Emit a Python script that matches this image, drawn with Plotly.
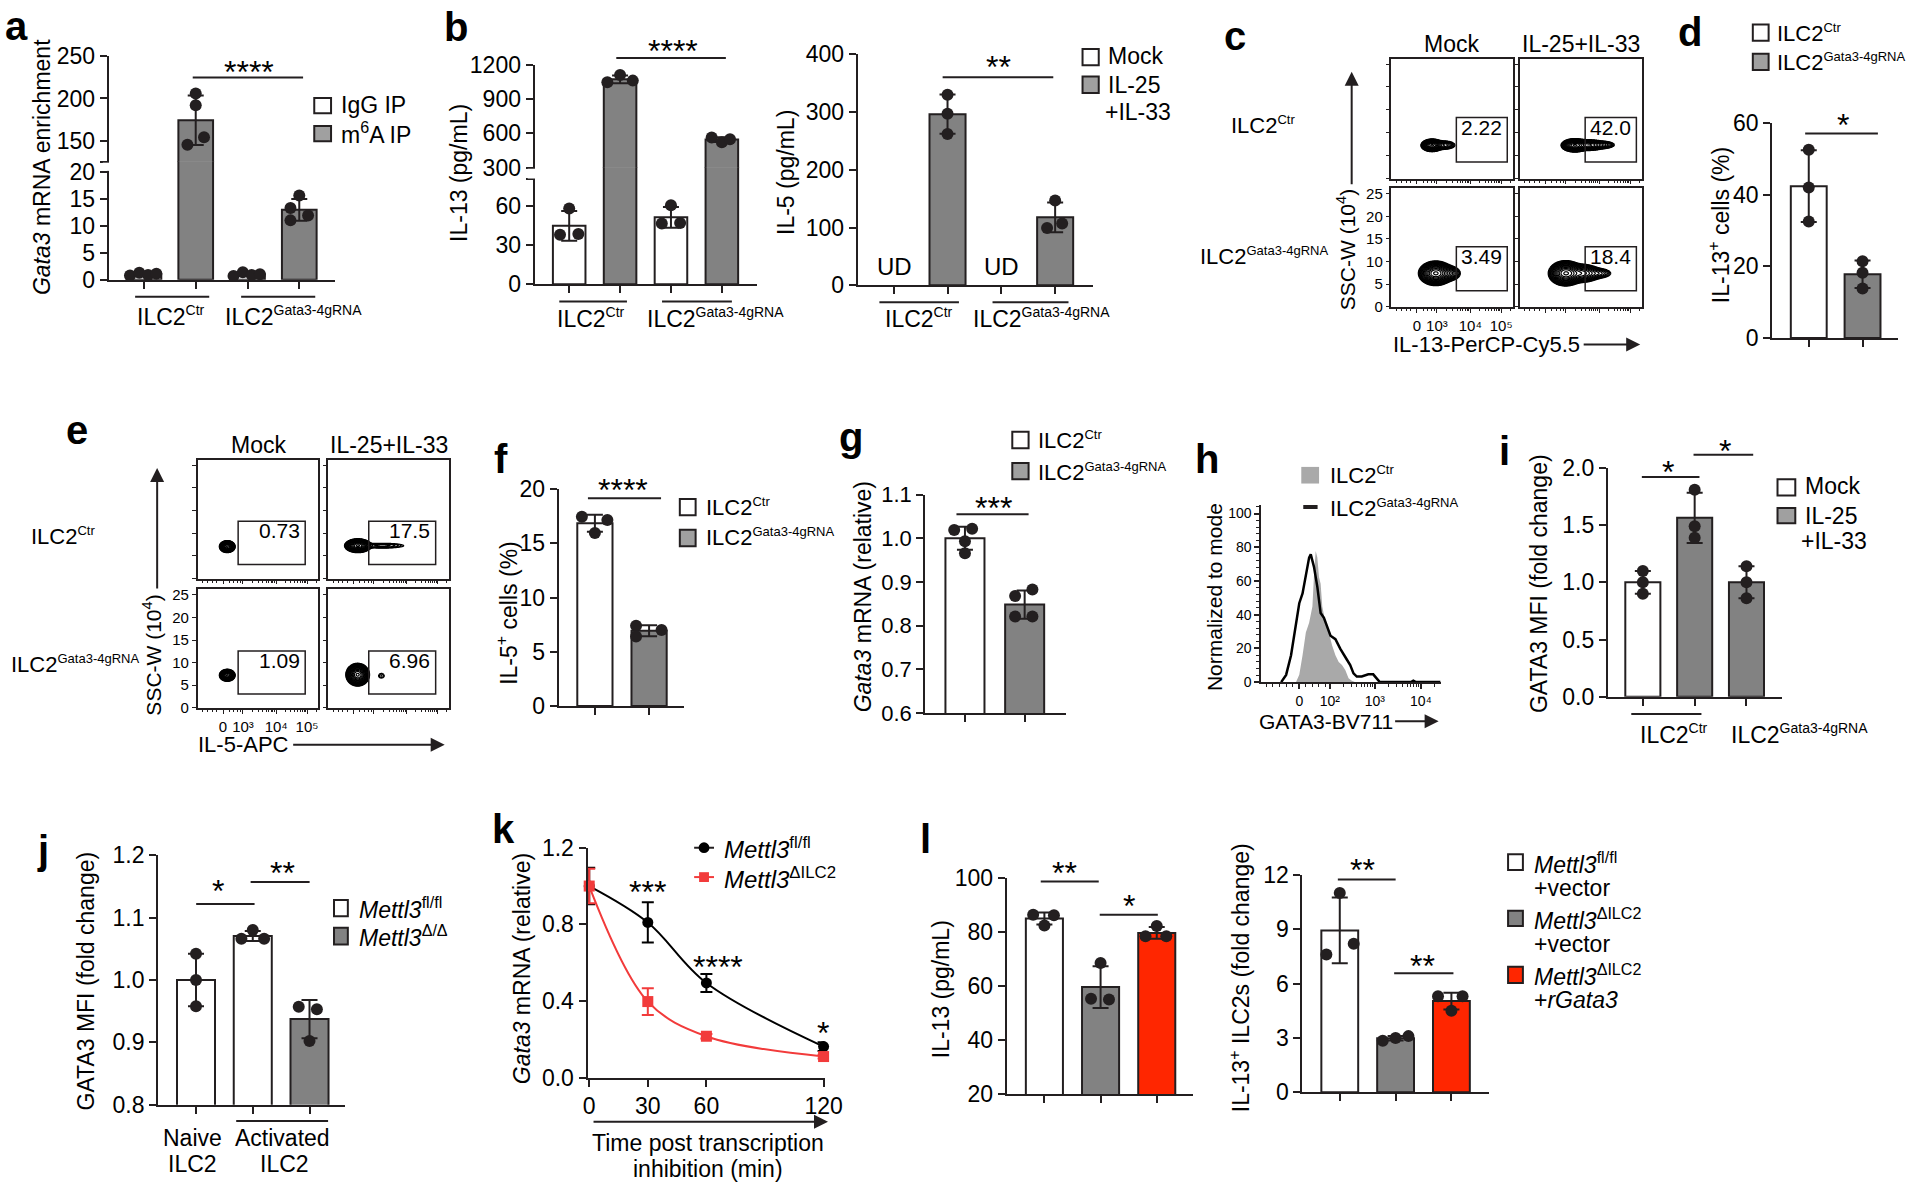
import numpy as np
import plotly.graph_objects as go

W, H = 1920, 1195
FONT = "Liberation Sans, Arial, Helvetica, sans-serif"
BLACK = "#231f20"
GRAY = "#828282"
LGRAY = "#a0a0a0"
RED = "#ff2600"
KRED = "#f23b3b"
HGRAY = "#a9a9a9"
TS = 23      # general text size
TK = 23      # tick label size

# ======================= DATA =======================
# panel a  (Gata3 mRNA enrichment)
a_igg_ctr = [0.8, 1.3, 0.9, 1.1]
a_m6a_ctr = [206, 192, 154, 145]
a_igg_grna = [0.7, 1.4, 0.9, 1.0]
a_m6a_grna = [15.6, 13.3, 11.9, 11.0]
a_ticks_low = [0, 5, 10, 15, 20]
a_ticks_up = [150, 200, 250]

# panel b  (IL-13 / IL-5 pg/mL)
b13_mock_ctr = [58, 38, 38.5]
b13_il_ctr = [1045, 1109, 1060]
b13_mock_grna = [60.5, 46.5, 47]
b13_il_grna = [565, 523, 550]
b13_ticks_low = [0, 30, 60]
b13_ticks_up = [300, 600, 900, 1200]
b5_il_ctr = [330, 297, 262]
b5_il_grna = [147, 99, 107]
b5_ticks = [0, 100, 200, 300, 400]

# panel c / e flow gates
c_gate_pct = ["2.22", "42.0", "3.49", "18.4"]
e_gate_pct = ["0.73", "17.5", "1.09", "6.96"]
flow_yticks = [0, 5, 10, 15, 20, 25]
flow_xtick_text = ["0", "10³", "10⁴", "10⁵"]
# populations: (center x, center y, spread x, spread y, weight)
c_pops = [
    [(0.335, 7.2, 0.031, 0.47, 1.0), (0.43, 7.25, 0.045, 0.45, 0.10)],
    [(0.45, 7.2, 0.038, 0.50, 1.0), (0.56, 7.25, 0.055, 0.46, 0.35), (0.68, 7.3, 0.048, 0.40, 0.08)],
    [(0.365, 7.4, 0.048, 0.92, 1.0), (0.47, 7.4, 0.045, 0.75, 0.12)],
    [(0.375, 7.4, 0.048, 0.95, 1.0), (0.50, 7.4, 0.065, 0.80, 0.30), (0.65, 7.4, 0.052, 0.55, 0.06)],
]
e_pops = [
    [(0.245, 7.0, 0.022, 0.45, 1.0)],
    [(0.245, 7.2, 0.037, 0.52, 1.0), (0.45, 7.2, 0.11, 0.34, 0.04)],
    [(0.245, 7.2, 0.022, 0.45, 1.0)],
    [(0.243, 7.33, 0.033, 0.85, 1.0), (0.44, 7.1, 0.022, 0.48, 0.02)],
]

# panel d  (IL-13+ cells %)
d_ctr = [52.5, 42, 32.5]
d_grna = [21.4, 18.2, 13.8]
d_ticks = [0, 20, 40, 60]

# panel f  (IL-5+ cells %)
f_ctr = [17.45, 17.15, 15.95]
f_grna = [7.4, 7.0, 6.4]
f_ticks = [0, 5, 10, 15, 20]

# panel g  (Gata3 mRNA relative)
g_ctr = [1.019, 1.022, 0.993, 0.966]
g_grna = [0.868, 0.883, 0.821, 0.821]
g_ticks = [0.6, 0.7, 0.8, 0.9, 1.0, 1.1]

# panel h  (histograms, biexponential display channel)
h_x_grna = [-5.5, -4, -2.5, -1, 0, 1, 2, 3, 3.5, 4.5, 5.5, 6, 6.5, 7.5, 8.5, 9.5, 11, 12.5, 14, 15.5,
            16.5, 17.5, 19, 21, 22.5, 23.5, 24.5, 34, 34.7, 35.5, 43]
h_y_grna = [0, 4.3, 15.9, 35.2, 46.8, 52.6, 62.3, 73.9, 75.8, 68.1, 56.5, 48.7, 41, 38.1, 33.3, 27.5, 25.5,
            19.7, 14.9, 10.1, 5.2, 3.3, 3.3, 4.6, 4.6, 2.3, 0, 0, 0.8, 0, 0]
h_x_ctr = [-1, 0, 1, 2, 3, 4, 4.5, 5, 5.5, 6, 6.5, 7, 8, 9, 10, 11, 12, 13, 14, 15, 16, 17]
h_y_ctr = [0, 4.3, 15.9, 29.4, 35.2, 44.9, 64.2, 77.8, 73.9, 62.3, 58.4, 44.9, 35.2, 29.4, 21.7, 15.9,
           12, 10.1, 7.2, 2.3, 0.8, 0]
h_xtick_pos = [0, 9.3, 23, 37]
h_xtick_text = ["0", "10²", "10³", "10⁴"]
h_yticks = [0, 20, 40, 60, 80, 100]

# panel i  (GATA3 MFI)
i_mock_ctr = [1.1, 1.0, 0.9]
i_il_ctr = [1.81, 1.49, 1.39]
i_il_grna = [1.14, 1.0, 0.86]
i_ticks = [0.0, 0.5, 1.0, 1.5, 2.0]

# panel j  (GATA3 MFI)
j_naive = [1.042, 1.0, 0.958]
j_act_fl = [1.08, 1.066, 1.066]
j_act_del = [0.957, 0.953, 0.902]
j_ticks = [0.8, 0.9, 1.0, 1.1, 1.2]

# panel k  (mRNA decay)
k_time = [0, 30, 60, 120]
k_fl = [1.0, 0.81, 0.494, 0.162]
k_fl_err = [0.095, 0.105, 0.047, 0.023]
k_del = [1.0, 0.397, 0.216, 0.11]
k_del_err = [0.09, 0.07, 0.012, 0.01]
k_yticks = [0.0, 0.4, 0.8, 1.2]

# panel l
l13_fl = [86.4, 86.2, 82.4]
l13_del = [68.5, 55.3, 55.0]
l13_rg = [82.2, 78.4, 78.4]
l13_ticks = [20, 40, 60, 80, 100]
lfc_fl = [11.0, 8.2, 7.6]
lfc_del = [2.85, 3.0, 3.1]
lfc_rg = [5.3, 5.3, 4.5]
lfc_ticks = [0, 3, 6, 9, 12]

# dot jitter (style only)
a_jit = [[-0.27, -0.09, 0.08, 0.24], [0, 0, 0.16, -0.16], [-0.27, -0.09, 0.08, 0.24], [0, -0.17, 0.17, -0.17]]
b13_jit = [[0, -0.18, 0.18], [-0.25, 0, 0.25], [0, -0.18, 0.18], [-0.2, 0, 0.16]]
b5_jit = [[0, 0, 0], [0, -0.15, 0.13]]
z3 = [0, 0, 0]
f_jit = [[-0.24, 0.23, 0], [-0.24, 0.23, -0.24]]
g_jit = [[-0.18, 0.12, 0, 0], [-0.16, 0.13, -0.16, 0.13]]
j_jit = [[0, 0, 0], [0, -0.2, 0.2], [-0.19, 0.13, 0]]
l13_jit = [[-0.2, 0.17, 0], [0, -0.17, 0.15], [0, -0.2, 0.17]]
lfc_jit = [[0, 0.25, -0.24], [-0.23, 0, 0.23], [-0.24, 0.2, 0]]

# ======================= HELPERS =======================
fig = go.Figure()
L = {}
shapes = []
annots = []
_n = {"x": 0, "y": 0}


def fx(p):
    return p / W


def fy(p):
    return 1 - p / H


def _ref(k, n):
    return k if n == 1 else f"{k}{n}"


def _name(k, n):
    return f"{k}axis" if n == 1 else f"{k}axis{n}"


def base_axis(size=TK):
    return dict(showline=True, linecolor=BLACK, linewidth=2, ticks="outside", ticklen=7, tickwidth=2,
                tickcolor=BLACK, showgrid=False, zeroline=False, fixedrange=True,
                tickfont=dict(family=FONT, size=size, color="black"))


def make_axes(xpx, ypx, xr, yr, xkw=None, ykw=None):
    _n["x"] += 1
    _n["y"] += 1
    xi, yi = _n["x"], _n["y"]
    xa = base_axis()
    xa.update(domain=[fx(xpx[0]), fx(xpx[1])], range=xr, anchor=_ref("y", yi))
    ya = base_axis()
    ya.update(domain=[fy(ypx[1]), fy(ypx[0])], range=yr, anchor=_ref("x", xi))
    if xkw:
        xa.update(xkw)
    if ykw:
        ya.update(ykw)
    L[_name("x", xi)] = xa
    L[_name("y", yi)] = ya
    return _ref("x", xi), _ref("y", yi)


def extra_y(xref, ypx, yr, ykw=None):
    _n["y"] += 1
    yi = _n["y"]
    ya = base_axis()
    ya.update(domain=[fy(ypx[1]), fy(ypx[0])], range=yr, anchor=xref)
    if ykw:
        ya.update(ykw)
    L[_name("y", yi)] = ya
    return _ref("y", yi)


def ticks_kw(vals, fmt="{:g}", size=TK, blank=()):
    return dict(tickvals=vals, ticktext=["" if v in blank else fmt.format(v) for v in vals],
                tickfont=dict(family=FONT, size=size, color="black"))


def bar_set(xa, ya, idx, pts, jit, fills, width, seg=None):
    means = [float(np.mean(p)) for p in pts]
    sds = [float(np.std(p, ddof=1)) for p in pts]
    fig.add_trace(go.Bar(x=idx, y=means, width=width, xaxis=xa, yaxis=ya, hoverinfo="skip",
                         marker=dict(color=fills, line=dict(color=BLACK, width=2))))
    ex, ey, ee = [], [], []
    for i, m, s in zip(idx, means, sds):
        if seg is None or seg[0] <= m <= seg[1]:
            ex.append(i)
            ey.append(m)
            ee.append(s)
    fig.add_trace(go.Scatter(x=ex, y=ey, mode="markers", xaxis=xa, yaxis=ya, hoverinfo="skip",
                             marker=dict(size=2, color="rgba(0,0,0,0)"),
                             error_y=dict(type="data", array=ee, color=BLACK, thickness=2, width=8)))
    px_, py_ = [], []
    for i, p, j in zip(idx, pts, jit):
        for v, o in zip(p, j):
            if seg is None or seg[0] <= v <= seg[1]:
                px_.append(i + o)
                py_.append(v)
    fig.add_trace(go.Scatter(x=px_, y=py_, mode="markers", xaxis=xa, yaxis=ya, hoverinfo="skip",
                             cliponaxis=False, marker=dict(size=12, color=BLACK)))


def txt(x, y, s, size=TS, xanchor="center", yanchor="middle", angle=0, bold=False):
    if bold:
        s = f"<b>{s}</b>"
    annots.append(dict(x=fx(x), y=fy(y), xref="paper", yref="paper", text=s, showarrow=False,
                       xanchor=xanchor, yanchor=yanchor, textangle=angle,
                       font=dict(family=FONT, size=size, color="black")))


def star(x, yglyph, s, size=32):
    txt(x, yglyph + 0.23 * size, s, size=size)


def hline(x0, x1, y, w=2):
    shapes.append(dict(type="line", xref="paper", yref="paper", x0=fx(x0), x1=fx(x1), y0=fy(y), y1=fy(y),
                       line=dict(color=BLACK, width=w)))


def sbox(x0, y0, x1, y1, fill, w=2):
    shapes.append(dict(type="rect", xref="paper", yref="paper", x0=fx(x0), x1=fx(x1), y0=fy(y1), y1=fy(y0),
                       fillcolor=fill, line=dict(color=BLACK, width=w)))


def cover(x0, y0, x1, y1):
    shapes.append(dict(type="rect", xref="paper", yref="paper", x0=fx(x0), x1=fx(x1), y0=fy(y1), y1=fy(y0),
                       fillcolor="white", line=dict(width=0)))


def arrow(xt, yt, xh, yh):
    annots.append(dict(x=fx(xh), y=fy(yh), xref="paper", yref="paper", ax=xt - xh, ay=yt - yh,
                       axref="pixel", ayref="pixel", showarrow=True, arrowhead=2, arrowsize=1.4,
                       arrowwidth=2, arrowcolor=BLACK, text=""))


def letter(x, y, s):
    txt(x, y, s, size=40, xanchor="left", bold=True)


def ilc(tag, sz=14):
    return f"ILC2<sup><span style='font-size:{sz}px'>{tag}</span></sup>"


CTR = "Ctr"
GR = "Gata3-4gRNA"
METTL_FL = "<i>Mettl3</i><sup>fl/fl</sup>"
METTL_DI = "<i>Mettl3</i><sup>ΔILC2</sup>"

# ======================= PANEL a =======================
xa, ya_lo = make_axes((105, 334), (151.5, 272.7), [-0.68, 3.69], [0, 21.96],
                      xkw=dict(tickvals=[0, 1, 2, 3], showticklabels=False),
                      ykw=ticks_kw(a_ticks_low))
ya_up = extra_y(xa, (44.3, 152), [125, 250], ticks_kw([125] + a_ticks_up, blank=(125,)))
a_pts = [a_igg_ctr, a_m6a_ctr, a_igg_grna, a_m6a_grna]
a_fill = ["white", GRAY, "white", GRAY]
bar_set(xa, ya_lo, [0, 1, 2, 3], a_pts, a_jit, a_fill, 0.67, seg=(0, 21.9))
bar_set(xa, ya_up, [0, 1, 2, 3], a_pts, a_jit, a_fill, 0.67, seg=(125, 250))
cover(99, 153, 111, 161.4)
letter(-2, 13, "a")
txt(37, 158, "<i>Gata3</i> mRNA enrichment", angle=-90)
hline(131.7, 206.7, 290)
hline(239, 314, 290)
txt(168, 310, ilc(CTR))
txt(292, 310, ilc(GR))
hline(190, 301.7, 66)
star(247, 53, "****")
sbox(313, 87, 330, 102.5, "white")
sbox(313, 115.5, 330, 131, LGRAY)
txt(338, 94, "IgG IP", xanchor="left")
txt(338, 123, "m<sup>6</sup>A IP", xanchor="left")

# ======================= PANEL b =======================
xb, yb_lo = make_axes((536, 761.6), (157.8, 277.3), [-0.68, 3.7], [0, 89.6],
                      xkw=dict(tickvals=[0, 1, 2, 3], showticklabels=False),
                      ykw=ticks_kw(b13_ticks_low + [80.5], blank=(80.5,)))
yb_up = extra_y(xb, (52.7, 158.3), [300, 1200], ticks_kw(b13_ticks_up))
b_pts = [b13_mock_ctr, b13_il_ctr, b13_mock_grna, b13_il_grna]
b_fill = ["white", GRAY, "white", GRAY]
bar_set(xb, yb_lo, [0, 1, 2, 3], b_pts, b13_jit, b_fill, 0.64, seg=(0, 89.6))
bar_set(xb, yb_up, [0, 1, 2, 3], b_pts, b13_jit, b_fill, 0.64, seg=(300, 1200))
cover(529, 159.2, 542, 169.2)
letter(442, 14, "b")
txt(460, 163, "IL-13 (pg/mL)", angle=-90)
hline(561, 629.5, 295)
hline(665, 735.7, 295)
txt(593.6, 312, ilc(CTR))
txt(719, 312, ilc(GR))
hline(618.7, 729.6, 46)
star(676, 31.7, "****")

xb5, yb5 = make_axes((863, 1101), (42.3, 278.3), [-0.67, 3.70], [0, 400],
                     xkw=dict(tickvals=[0, 1, 2, 3], showticklabels=False), ykw=ticks_kw(b5_ticks))
bar_set(xb5, yb5, [1, 3], [b5_il_ctr, b5_il_grna], b5_jit, [GRAY, GRAY], 0.67)
txt(791, 163, "IL-5 (pg/mL)", angle=-90)
txt(900, 259, "UD", size=24)
txt(1009, 259, "UD", size=24)
hline(885, 965.5, 295.7)
hline(999.5, 1076.4, 295.7)
txt(925, 312, ilc(CTR))
txt(1049.5, 312, ilc(GR))
hline(949, 1061, 65.7)
star(1005.6, 48.3, "**")
sbox(1090.6, 36.7, 1107, 53.3, "white")
sbox(1090.6, 65, 1107, 81.7, LGRAY)
txt(1114, 44, "Mock", xanchor="left")
txt(1114, 74, "IL-25", xanchor="left")
txt(1111, 101, "+IL-33", xanchor="left")

# ======================= FLOW helpers =======================
gx = np.linspace(0, 1, 280)
gy = np.linspace(0, 26.2, 220)
flow_xpos = [0.21, 0.375, 0.65, 0.905]
flow_minor = ([0.04, 0.08, 0.12, 0.16, 0.26, 0.30, 0.33, 0.355]
              + [0.375 + 0.275 * np.log10(k) for k in range(2, 10)]
              + [0.65 + 0.255 * np.log10(k) for k in range(2, 10)]
              + [0.905 + 0.255 * np.log10(k) for k in range(2, 3)])


def flow_panel(xpx, ypx, pops, gate, gate_lbl, show_x, show_y):
    fnt = dict(family=FONT, size=15, color="black")
    xkw = dict(linewidth=1.5, mirror=True, ticklen=4, tickwidth=1, tickvals=flow_xpos,
               ticktext=flow_xtick_text, showticklabels=show_x, tickfont=fnt,
               minor=dict(tickmode="array", tickvals=flow_minor, ticklen=2.5, tickwidth=1, ticks="outside",
                          tickcolor=BLACK))
    ykw = dict(linewidth=1.5, mirror=True, ticklen=4, tickwidth=1, tickvals=flow_yticks,
               ticktext=[str(v) for v in flow_yticks], showticklabels=show_y, tickfont=fnt)
    xr_, yr_ = make_axes(xpx, ypx, [0, 1], [-0.1, 26.2], xkw, ykw)
    X, Y = np.meshgrid(gx, gy)
    Z = np.zeros_like(X)
    for (mx, my, sx, sy, w) in pops:
        Z += w * np.exp(-0.5 * (((X - mx) / sx) ** 2 + ((Y - my) / sy) ** 2))
    Z = np.log10(Z / Z.max() + 1e-9)
    fig.add_trace(go.Contour(x=gx, y=gy, z=Z, xaxis=xr_, yaxis=yr_, showscale=False, hoverinfo="skip",
                             contours=dict(start=-1.95, end=-0.03, size=0.12, coloring="lines"),
                             line=dict(width=1.2), colorscale=[[0, "black"], [1, "black"]]))
    shapes.append(dict(type="rect", xref=xr_, yref=yr_, x0=gate[0], x1=gate[1], y0=gate[2], y1=gate[3],
                       line=dict(color=BLACK, width=1.5)))
    annots.append(dict(x=gate[1] - 0.03, y=gate[3] - 2.1, xref=xr_, yref=yr_, text=gate_lbl, showarrow=False,
                       xanchor="right", yanchor="middle", font=dict(family=FONT, size=21, color="black")))


# ======================= PANEL c =======================
c_boxes = [((1403.3, 1526), (46.7, 169.3)), ((1533.3, 1656.7), (46.7, 169.3)),
           ((1403.3, 1526), (179.3, 300.7)), ((1533.3, 1656.7), (179.3, 300.7))]
for k_, (bx, by) in enumerate(c_boxes):
    flow_panel(bx, by, c_pops[k_], (0.535, 0.955, 3.55, 13.3), c_gate_pct[k_], k_ == 2, k_ == 2)
letter(1232, 24, "c")
txt(1464, 32, "Mock")
txt(1595, 32, "IL-25+IL-33")
txt(1239, 115, ilc(CTR, 13), size=22, xanchor="left")
txt(1207, 248, ilc(GR, 13), size=22, xanchor="left")
txt(1358, 241.7, "SSC-W (10<sup>4</sup>)", size=21, angle=-90)
arrow(1363, 174, 1363, 60)
txt(1499, 339, "IL-13-PerCP-Cy5.5", size=22)
arrow(1597, 339, 1655, 339)

# ======================= PANEL d =======================
xd, yd = make_axes((1788.6, 1916), (112.3, 332.3), [-0.68, 1.66], [0, 60],
                   xkw=dict(tickvals=[0, 1], showticklabels=False), ykw=ticks_kw(d_ticks))
bar_set(xd, yd, [0, 1], [d_ctr, d_grna], [z3, z3], ["white", GRAY], 0.667)
letter(1691, 19, "d")
sbox(1769, 11.7, 1785, 28.3, "white")
sbox(1769, 41.7, 1785, 58.3, LGRAY)
txt(1791, 20, ilc(CTR, 13), size=22, xanchor="left")
txt(1791, 50, ilc(GR, 13), size=22, xanchor="left")
hline(1822, 1895.6, 123.3)
star(1859.8, 106.7, "*")
txt(1735, 216.7, "IL-13<sup>+</sup> cells (%)", angle=-90)

# ======================= PANEL e =======================
e_boxes = [((195, 317.3), (456.7, 578.3)), ((327.3, 449.3), (456.7, 578.3)),
           ((195, 317.3), (589.3, 710.7)), ((327.3, 449.3), (589.3, 710.7))]
for k_, (bx, by) in enumerate(e_boxes):
    flow_panel(bx, by, e_pops[k_], (0.335, 0.89, 3.05, 12.6), e_gate_pct[k_], k_ == 2, k_ == 2)
letter(60, 426, "e")
txt(256.7, 441.7, "Mock")
txt(388.4, 441.7, "IL-25+IL-33")
txt(24.5, 535, ilc(CTR, 13), size=22, xanchor="left")
txt(4.5, 665, ilc(GR, 13), size=22, xanchor="left")
txt(149, 656.7, "SSC-W (10<sup>4</sup>)", size=21, angle=-90)
arrow(154, 587, 154, 465)
txt(241, 748, "IL-5-APC", size=22)
arrow(292, 748, 445, 748)

# ======================= PANEL f =======================
xf, yf = make_axes((560.3, 687), (486.7, 708.3), [-0.67, 1.64], [0, 20],
                   xkw=dict(tickvals=[0, 1], showticklabels=False), ykw=ticks_kw(f_ticks))
bar_set(xf, yf, [0, 1], [f_ctr, f_grna], f_jit, ["white", GRAY], 0.65)
letter(493, 456, "f")
hline(590, 664, 496)
star(625, 480, "****")
txt(508, 613.3, "IL-5<sup>+</sup> cells (%)", angle=-90)
sbox(683, 496.7, 699, 513.3, "white")
sbox(683, 528.3, 699, 545, LGRAY)
txt(707, 505, ilc(CTR, 13), size=22, xanchor="left")
txt(707, 536, ilc(GR, 13), size=22, xanchor="left")

# ======================= PANEL g =======================
xg, yg = make_axes((931.3, 1073.7), (492.3, 715.7), [-0.667, 1.69], [0.6, 1.1],
                   xkw=dict(tickvals=[0, 1], showticklabels=False), ykw=ticks_kw(g_ticks, "{:.1f}", size=22))
bar_set(xg, yg, [0, 1], [g_ctr, g_grna], g_jit, ["white", GRAY], 0.654)
letter(842, 433, "g")
sbox(1019.5, 428, 1036, 445, "white")
sbox(1019.5, 460, 1036, 476.7, LGRAY)
txt(1044, 437, ilc(CTR, 13), size=22, xanchor="left")
txt(1044, 469, ilc(GR, 13), size=22, xanchor="left")
hline(963, 1036, 512.3)
star(1000.5, 498.3, "***")
txt(868, 596.7, "<i>Gata3</i> mRNA (relative)", angle=-90)

# ======================= PANEL h =======================
h_minor = ([-10, -8, -6, -4, -2, 2, 4, 6, 8]
           + [9.3 + 13.7 * np.log10(k) for k in range(2, 10)]
           + [23 + 14 * np.log10(k) for k in range(2, 10)]
           + [37 + 14 * np.log10(k) for k in range(2, 3)])
hfont = dict(family=FONT, size=14, color="black")
xh, yh = make_axes((1271.7, 1453), (502.7, 684), [-11.5, 43], [0, 105.2],
                   xkw=dict(tickvals=h_xtick_pos, ticktext=h_xtick_text, tickfont=hfont, ticklen=5, tickwidth=1.5,
                            minor=dict(tickmode="array", tickvals=h_minor, ticklen=3, tickwidth=1,
                                       ticks="outside", tickcolor=BLACK)),
                   ykw=dict(tickvals=h_yticks, ticktext=[str(v) for v in h_yticks], tickfont=hfont, ticklen=5,
                            tickwidth=1.5, minor=dict(dtick=4, ticklen=3, tickwidth=1, ticks="outside",
                                                      tickcolor=BLACK)))
fig.add_trace(go.Scatter(x=h_x_ctr, y=h_y_ctr, mode="lines", fill="tozeroy", fillcolor=HGRAY,
                         line=dict(width=0, color=HGRAY), xaxis=xh, yaxis=yh, hoverinfo="skip"))
fig.add_trace(go.Scatter(x=h_x_grna, y=h_y_grna, mode="lines", line=dict(width=2.5, color="black"),
                         xaxis=xh, yaxis=yh, hoverinfo="skip"))
letter(1202, 456, "h")
shapes.append(dict(type="rect", xref="paper", yref="paper", x0=fx(1312), x1=fx(1330), y0=fy(481), y1=fy(464),
                   fillcolor=HGRAY, line=dict(width=0)))
hline(1314, 1328.5, 505, w=4)
txt(1339.5, 472, ilc(CTR, 13), size=22, xanchor="left")
txt(1339.5, 506, ilc(GR, 13), size=22, xanchor="left")
txt(1224, 596.7, "Normalized to mode", size=21, angle=-90)
txt(1337, 724, "GATA3-BV711", size=21)
arrow(1406, 724, 1451, 724)

# ======================= PANEL i =======================
xi_, yi_ = make_axes((1622.3, 1799), (465, 699), [-0.675, 2.694], [0, 2],
                     xkw=dict(tickvals=[0, 1, 2], showticklabels=False), ykw=ticks_kw(i_ticks, "{:.1f}"))
bar_set(xi_, yi_, [0, 1, 2], [i_mock_ctr, i_il_ctr, i_il_grna], [z3, z3, z3], ["white", GRAY, GRAY], 0.677)
letter(1510, 448, "i")
hline(1656.7, 1715, 474.3)
star(1682.8, 461.7, "*")
hline(1709, 1769.4, 451.7)
star(1741, 440, "*")
hline(1646, 1717, 716.7)
txt(1689.5, 737, ilc(CTR))
txt(1745, 737, ilc(GR), xanchor="left")
sbox(1794, 476.7, 1812, 493.3, "white")
sbox(1794, 506, 1812, 521.7, LGRAY)
txt(1820, 484, "Mock", xanchor="left")
txt(1820, 514, "IL-25", xanchor="left")
txt(1816, 540, "+IL-33", xanchor="left")
txt(1552, 583.3, "GATA3 MFI (fold change)", angle=-90)

# ======================= PANEL j =======================
xj, yj = make_axes((155, 344.4), (861, 1116), [-0.667, 2.63], [0.8, 1.2],
                   xkw=dict(tickvals=[0, 1, 2], showticklabels=False), ykw=ticks_kw(j_ticks, "{:.1f}"))
bar_set(xj, yj, [0, 1, 2], [j_naive, j_act_fl, j_act_del], j_jit, ["white", "white", GRAY], 0.67)
letter(30, 856, "j")
hline(193.5, 252.6, 910.7)
star(215.3, 890, "*")
hline(248.6, 308.3, 888.3)
star(281.3, 871.7, "**")
hline(234, 327, 1132.7)
txt(189.4, 1150, "Naive")
txt(189.4, 1177, "ILC2")
txt(281.3, 1150, "Activated")
txt(283, 1177, "ILC2")
sbox(333, 906.7, 347, 923.3, "white")
sbox(333, 935, 347, 952.3, GRAY)
txt(356, 915, METTL_FL, xanchor="left")
txt(356, 944, "<i>Mettl3</i><sup>Δ/Δ</sup>", xanchor="left")
txt(82, 990, "GATA3 MFI (fold change)", angle=-90)

# ======================= PANEL k =======================
xk, yk = make_axes((589.6, 829.5), (853.3, 1088.3), [-0.86, 120.5], [0, 1.2],
                   xkw=ticks_kw(k_time), ykw=ticks_kw(k_yticks, "{:.1f}"))
for yv, ev, col, sym in [(k_fl, k_fl_err, "black", "circle"), (k_del, k_del_err, KRED, "square")]:
    fig.add_trace(go.Scatter(x=k_time, y=yv, mode="lines", line=dict(color=col, width=2, shape="spline",
                                                                      smoothing=1.0),
                             xaxis=xk, yaxis=yk, hoverinfo="skip", cliponaxis=False))
    fig.add_trace(go.Scatter(x=k_time, y=yv, mode="markers", marker=dict(symbol=sym, size=11, color=col),
                             error_y=dict(type="data", array=ev, color=col, thickness=2, width=6),
                             xaxis=xk, yaxis=yk, hoverinfo="skip", cliponaxis=False))
letter(491, 834, "k")
hline(697.5, 717.6, 853.3, w=2)
shapes.append(dict(type="circle", xref="paper", yref="paper", x0=fx(702), x1=fx(713), y0=fy(858.8), y1=fy(847.8),
                   fillcolor="black", line=dict(width=0)))
shapes.append(dict(type="line", xref="paper", yref="paper", x0=fx(697.5), x1=fx(717.6), y0=fy(883.3),
                   y1=fy(883.3), line=dict(color=KRED, width=2)))
shapes.append(dict(type="rect", xref="paper", yref="paper", x0=fx(702.5), x1=fx(712.5), y0=fy(888.3),
                   y1=fy(878.3), fillcolor=KRED, line=dict(width=0)))
txt(726, 854, METTL_FL, size=24, xanchor="left")
txt(726, 884, METTL_DI, size=24, xanchor="left")
star(650.4, 891.7, "***")
star(722, 968.3, "****")
star(828.4, 1035, "*")
arrow(597, 1133.3, 833, 1133.3)
txt(711.8, 1155, "Time post transcription")
txt(711.8, 1182, "inhibition (min)")
txt(524, 976.7, "<i>Gata3</i> mRNA (relative)", angle=-90)

# ======================= PANEL l =======================
xl1, yl1 = make_axes((1013.9, 1202.5), (884.3, 1105), [-0.67, 2.647], [20, 100],
                     xkw=dict(tickvals=[0, 1, 2], showticklabels=False), ykw=ticks_kw(l13_ticks))
bar_set(xl1, yl1, [0, 1, 2], [l13_fl, l13_del, l13_rg], l13_jit, ["white", GRAY, RED], 0.66)
xl2, yl2 = make_axes((1313.1, 1501.8), (881, 1103.3), [-0.67, 2.67], [0, 12],
                     xkw=dict(tickvals=[0, 1, 2], showticklabels=False), ykw=ticks_kw(lfc_ticks))
bar_set(xl2, yl2, [0, 1, 2], [lfc_fl, lfc_del, lfc_rg], lfc_jit, ["white", GRAY, RED], 0.66)
letter(924, 844, "l")
hline(1048.3, 1107, 887.7)
star(1072.4, 871.7, "**")
hline(1108, 1166.8, 921.7)
star(1137.5, 905, "*")
hline(1349, 1407.5, 885.7)
star(1373.6, 869, "**")
hline(1406, 1466, 981.7)
star(1434.8, 966.7, "**")
txt(947, 998.3, "IL-13 (pg/mL)", angle=-90)
txt(1250, 986.7, "IL-13<sup>+</sup> ILC2s (fold change)", angle=-90)
sbox(1521.3, 860, 1536.3, 876, "white")
sbox(1521.3, 917.7, 1536.3, 933.3, GRAY)
sbox(1521.3, 975, 1536.3, 991.7, RED)
txt(1546, 868.5, METTL_FL, xanchor="left")
txt(1546, 894, "+vector", xanchor="left")
txt(1546, 926.5, METTL_DI, xanchor="left")
txt(1546, 952, "+vector", xanchor="left")
txt(1546, 983.5, METTL_DI, xanchor="left")
txt(1546, 1009, "+<i>rGata3</i>", xanchor="left")

# ======================= LAYOUT =======================
fig.update_layout(width=W, height=H, margin=dict(l=0, r=0, t=0, b=0), paper_bgcolor="white",
                  plot_bgcolor="rgba(0,0,0,0)", showlegend=False, barmode="overlay",
                  shapes=shapes, annotations=annots, **L)
fig.write_html("out.html", config={"displayModeBar": False},
               post_script="document.body.style.margin='0px';document.body.style.overflow='hidden';")
